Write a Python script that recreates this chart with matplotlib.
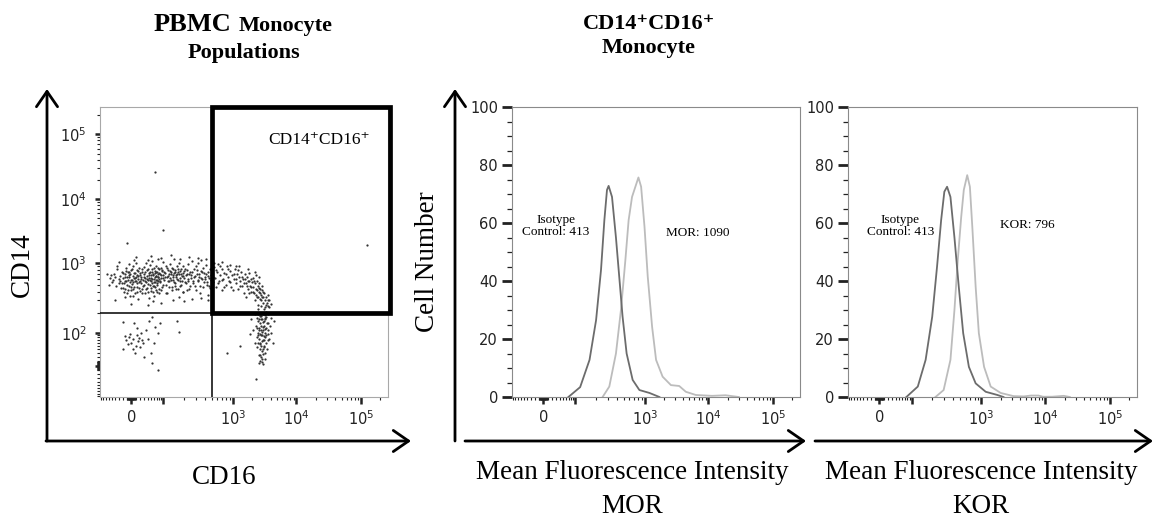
import numpy as np
import matplotlib
matplotlib.use("Agg")
import matplotlib.pyplot as plt
from matplotlib.patches import FancyArrowPatch, Rectangle, ArrowStyle
from matplotlib.ticker import FixedLocator, FixedFormatter, NullFormatter

# ---------------- data ----------------
# PBMC scatter events (CD16, CD14) by region
main_left = [
    (-55, 620), (-48, 540), (-42, 700), (-38, 480), (-35, 820), (-30, 600), (-28, 520), (-25, 660),
    (-22, 750), (-20, 450), (-45, 580), (-33, 900), (-26, 560), (-52, 680), (-40, 640),
    (-18, 610), (-16, 520), (-15, 700), (-14, 430), (-12, 860), (-11, 560), (-10, 650), (-9, 380),
    (-8, 740), (-7, 590), (-6, 480), (-5, 960), (-4, 630), (-3, 540), (-2, 700), (-1, 420), (0, 800),
    (1, 580), (2, 510), (3, 660), (4, 350), (5, 900), (6, 610), (7, 470), (8, 720), (9, 560),
    (10, 640), (11, 1000), (12, 400), (13, 690), (14, 530), (15, 780), (16, 600), (17, 450), (18, 850),
    (19, 570), (20, 680), (-13, 330), (6, 1100), (15, 310),
    (22, 520), (23, 640), (25, 760), (26, 430), (27, 590), (29, 880), (30, 500), (31, 700), (33, 380),
    (34, 610), (35, 990), (36, 540), (38, 660), (39, 450), (40, 820), (41, 580), (43, 720), (44, 320),
    (45, 620), (46, 500), (48, 940), (49, 680), (50, 560), (51, 410), (53, 760), (54, 600), (55, 1080),
    (56, 480), (58, 690), (59, 540), (60, 850), (61, 350), (63, 630), (64, 720), (65, 470), (66, 580),
    (68, 910), (69, 660), (70, 400), (71, 750), (72, 520), (74, 640), (75, 1150), (76, 560), (77, 700),
    (78, 440), (79, 820), (80, 600), (57, 290), (42, 1120),
    (82, 700), (85, 540), (88, 860), (90, 620), (92, 460), (95, 770), (97, 680), (100, 1050), (103, 580),
    (105, 730), (108, 490), (110, 900), (113, 650), (115, 380), (118, 800), (120, 700), (123, 560),
    (125, 960), (128, 620), (130, 740), (133, 470), (135, 860), (138, 680), (140, 590), (143, 1180),
    (145, 720), (148, 520), (150, 800), (153, 650), (156, 440), (158, 900), (160, 700), (164, 580),
    (168, 760), (172, 1000), (175, 620), (178, 480), (182, 840), (186, 700), (190, 560), (193, 920),
    (196, 660), (198, 400), (200, 780), (170, 330),
    (205, 620), (210, 840), (215, 520), (222, 700), (228, 960), (235, 600), (240, 430), (248, 760),
    (255, 680), (262, 1080), (270, 560), (278, 820), (285, 640), (292, 480), (300, 900), (310, 700),
    (318, 580), (325, 1000), (335, 650), (345, 380), (355, 780), (365, 600), (375, 860), (385, 540),
    (395, 720), (410, 640), (420, 940), (432, 500), (445, 760), (458, 620), (470, 840), (482, 450),
    (495, 680), (360, 1100), (440, 360),
]
main_core = [
    (-24, 450), (-21, 530), (-19, 720), (-17, 390), (-15, 560), (-13, 640), (-11, 780), (-9, 500),
    (-7, 420), (-6, 680), (-4, 760), (-3, 350), (-1, 590), (0, 470), (2, 830), (3, 540), (5, 430),
    (6, 720), (8, 610), (9, 380), (11, 560), (12, 790), (14, 470), (16, 660), (17, 540), (19, 410),
    (21, 730), (22, 600), (24, 380), (26, 820), (28, 480), (30, 640), (32, 560), (33, 740), (35, 430),
    (37, 600), (38, 810), (40, 510), (42, 390), (44, 690), (46, 580), (47, 760), (49, 450), (51, 620),
    (52, 530), (54, 840), (56, 400), (57, 700), (59, 600), (61, 480), (62, 780), (64, 550), (66, 660),
    (67, 420), (69, 740), (71, 590), (73, 500), (74, 860), (76, 640), (78, 380), (80, 720),
    (84, 560), (87, 680), (89, 420), (93, 800), (96, 610), (99, 500), (102, 740), (106, 640), (109, 380),
    (112, 860), (116, 560), (119, 660), (122, 460), (126, 780), (129, 580), (132, 700), (136, 420),
    (139, 820), (142, 640), (146, 540), (149, 740), (152, 480), (155, 680), (159, 600), (163, 840),
    (166, 440), (171, 700), (176, 560), (180, 780), (185, 500), (189, 660), (194, 400), (199, 720),
    (206, 540), (213, 680), (220, 420), (226, 800), (233, 560), (241, 700), (250, 480), (258, 620),
    (267, 760), (276, 520), (288, 660), (298, 420), (308, 800), (320, 560), (332, 700), (344, 480),
    (357, 620), (370, 760), (383, 460), (398, 600), (415, 700), (430, 540), (448, 660), (465, 480),
    (488, 580),
    (-30, 1050), (10, 1250), (50, 1300), (90, 1200), (130, 1350), (180, 1150), (240, 1250), (320, 1200),
    (420, 1150), (-40, 300), (0, 270), (40, 260), (90, 280), (140, 300), (200, 290), (260, 310),
    (350, 320), (450, 300), (-60, 500), (-65, 700),
]
main_right = [
    (510, 700), (520, 540), (540, 880), (560, 620), (580, 460), (600, 760), (620, 980), (640, 560),
    (660, 680), (690, 420), (710, 820), (730, 600), (760, 720), (790, 500), (820, 900), (850, 640),
    (880, 560), (910, 780), (950, 470), (980, 680),
    (1020, 600), (1060, 820), (1100, 520), (1150, 700), (1200, 440), (1250, 640), (1300, 560),
    (1350, 760), (1400, 480), (1450, 600), (1500, 380), (1550, 700), (1600, 520), (1650, 640),
    (1700, 430), (1750, 560), (1800, 720), (1850, 480), (1900, 600), (1950, 400), (2000, 540),
    (1120, 900), (1580, 330), (1780, 380),
    (2050, 460), (2100, 620), (2150, 380), (2200, 520), (2250, 300), (2300, 440), (2350, 560),
    (2400, 340), (2450, 480), (2500, 260), (2550, 400), (2600, 520), (2650, 310), (2700, 440),
    (2750, 360), (2800, 250), (2850, 480), (2900, 330), (2950, 400), (3000, 280), (3100, 380),
    (3200, 240), (3300, 330), (3400, 280), (3500, 360), (3600, 250), (3700, 300), (3900, 270),
    (2300, 680), (2600, 640), (3050, 230), (2450, 230),
    (530, 640), (570, 800), (610, 520), (650, 900), (700, 580), (750, 460), (800, 700), (860, 820),
    (920, 540), (990, 420), (1050, 700), (1130, 600), (1210, 800), (1280, 480), (1380, 640),
    (1470, 520), (1560, 600), (1680, 480), (1820, 560), (1920, 460), (2080, 400), (2180, 560),
    (2280, 360), (2380, 420), (2480, 330), (2580, 450), (2680, 380), (2780, 300), (2880, 420),
    (2980, 340), (3150, 300), (3350, 260), (3550, 300), (3750, 240), (540, 1000), (700, 1050),
    (900, 950), (1250, 900), (1700, 820), (2200, 750),
]
tail = [
    (2200, 190), (2400, 170), (2600, 200), (2800, 180), (3000, 195), (3200, 160), (2500, 150),
    (2700, 140), (2900, 165), (3100, 130), (3300, 175), (2300, 130), (2550, 120), (2750, 110),
    (2950, 125), (3150, 100), (3400, 140), (2450, 100), (2650, 95), (2850, 105), (3050, 85),
    (3250, 115), (3500, 95), (2350, 80), (2600, 75), (2800, 90), (3000, 70), (3200, 80), (3600, 110),
    (2500, 60), (2700, 55), (2900, 65), (3100, 50), (3350, 60), (2400, 45), (2650, 40), (2850, 35),
    (3050, 45), (3250, 30), (2550, 25), (2750, 20), (2950, 28), (3150, 15), (2700, 10), (2900, 8),
    (3000, 3), (2600, 5), (3400, 40), (3700, 75), (3800, 130), (3900, 100), (4200, 60), (4400, 150),
    (1900, 160), (2100, 110), (2200, 60), (1850, 95), (3300, 205), (3600, 190), (4000, 170),
    (2750, 160), (3050, 150), (2650, 180), (2950, 145), (3150, 185),
    (2450, 190), (2850, 200), (3150, 170), (2550, 165), (2750, 130), (3000, 110), (3300, 90),
    (2600, 110), (2900, 90), (3100, 70), (2650, 60), (2800, 50), (3000, 40), (2500, 90), (3350, 120),
    (2700, 25), (2850, 15), (3500, 70), (3600, 140), (2400, 120),
]
lower_left = [
    (-18, 145), (7, 140), (55, 175), (160, 150), (170, 105), (-11, 70), (-5, 80), (0, 60), (5, 75),
    (10, 50), (15, 65), (20, 45), (25, 70), (-8, 55), (-14, 85), (12, 90), (28, 60), (3, 40), (18, 78),
    (-2, 95), (50, 30), (52, 5), (74, -11), (40, 75), (75, 100), (12, 120), (35, 110), (60, 60),
    (85, 140), (-20, 40), (30, 20), (65, 125), (45, 150), (8, 30), (22, 100),
]
outliers = [(65, 26500), (100, 3300), (-9, 2080), (126000, 1930), (2330, -31), (1300, 50), (820, 30)]

gate_cd16 = 500
gate_cd14 = 200
gate_label = "CD14\u207aCD16\u207a"

# histogram traces (intensity, cell number)
mor_iso_x = [69, 118, 163, 203, 239, 267, 291, 307, 343, 390, 434, 484, 552, 671, 835, 1176, 1687]
mor_iso_y = [0, 3.4, 12.8, 26.5, 43.8, 61, 71.4, 72.8, 69, 55, 41.5, 27.7, 15, 5.9, 2.4, 1.4, 0]
mor_x = [252, 314, 390, 459, 529, 589, 658, 733, 809, 883, 985, 1106, 1296, 1496, 1897, 2563,
         3459, 4401, 6310, 11320, 18400, 29500]
mor_y = [0, 3.6, 15, 30, 47, 61, 69, 72.5, 75.7, 72.5, 58.7, 41.5, 24.2, 12.8, 7, 4.1,
         3.8, 1.8, 0.7, 0.4, 0.6, 0]
kor_iso_x = [76, 124, 162, 202, 237, 271, 301, 329, 367, 418, 481, 555, 667, 830, 1167, 1777, 2218]
kor_iso_y = [0, 3.6, 12.8, 27.7, 45, 61, 70.8, 72.5, 69, 55, 38, 22, 10.4, 4.7, 1.8, 0.7, 0]
kor_x = [225, 294, 367, 418, 465, 520, 566, 632, 689, 745, 830, 920, 1100, 1398, 2003, 3196,
         4620, 6000, 7850, 9240, 12900, 19400, 24000]
kor_y = [0, 2.4, 12.8, 30, 47, 62, 71.4, 76.5, 72.5, 58.7, 38, 22, 10.4, 3.6, 1.4, 0.3,
         0.2, 0.5, 0.5, 0.1, 0.1, 0.4, 0]

iso_label = "Isotype\nControl: 413"
mor_label = "MOR: 1090"
kor_label = "KOR: 796"

# ---------------- scale (biexponential-like) ----------------
ANCH_V = np.array([-1e5, -1e4, -1e3, -100, 0, 100, 1e3, 1e4, 1e5, 1e6])
ANCH_P = np.array([-231.5, -166.5, -102.5, -32.5, 0, 32.5, 102.5, 166.5, 231.5, 296.5])


def _g(v):
    return np.arcsinh(np.asarray(v, dtype=float) / 50.0)


G_ANCH = _g(ANCH_V)


def fwd(v):
    return np.interp(_g(v), G_ANCH, ANCH_P)


def inv(p):
    return 50.0 * np.sinh(np.interp(np.asarray(p, dtype=float), ANCH_P, G_ANCH))


MAJOR = [0, 100, 1e3, 1e4, 1e5]
MINOR = ([-k for k in range(1, 10)] + [-10 * k for k in range(1, 10)] +
         [k for k in range(1, 10)] + [10 * k for k in range(1, 10)] +
         [100 * k for k in range(2, 10)] + [1000 * k for k in range(2, 10)] +
         [10000 * k for k in range(2, 10)] + [200000])
LIMS = (-95, 262144)

W, H = 1163, 519
fig = plt.figure(figsize=(W / 100, H / 100), dpi=100)
SERIF = ["Liberation Serif", "DejaVu Serif"]
TICKC = "#222222"
TLS = 10.5


def fx(x):
    return x / W


def fy(y):
    return 1 - y / H


def setup_x(ax):
    ax.set_xscale("function", functions=(fwd, inv))
    ax.set_xlim(*LIMS)
    ax.xaxis.set_major_locator(FixedLocator(MAJOR))
    ax.xaxis.set_major_formatter(FixedFormatter(["0", "", r"$10^3$", r"$10^4$", r"$10^5$"]))
    ax.xaxis.set_minor_locator(FixedLocator(MINOR))
    ax.xaxis.set_minor_formatter(NullFormatter())
    ax.tick_params(axis="x", which="major", direction="out", length=5, width=1.8,
                   colors=TICKC, labelsize=TLS, pad=4)
    ax.tick_params(axis="x", which="minor", direction="out", length=2.5, width=0.8, colors=TICKC)
    for lab in ax.xaxis.get_majorticklabels()[2:]:
        pass


def frame(ax, color):
    for s in ax.spines.values():
        s.set_color(color)
        s.set_linewidth(0.8)


# ---------------- left: scatter ----------------
axL = fig.add_axes([fx(100), fy(397), 288 / W, 290 / H])
setup_x(axL)
axL.set_yscale("function", functions=(fwd, inv))
axL.set_ylim(*LIMS)
axL.yaxis.set_major_locator(FixedLocator(MAJOR))
axL.yaxis.set_major_formatter(FixedFormatter(["", r"$10^2$", r"$10^3$", r"$10^4$", r"$10^5$"]))
axL.yaxis.set_minor_locator(FixedLocator(MINOR))
axL.yaxis.set_minor_formatter(NullFormatter())
axL.tick_params(axis="y", which="major", direction="out", length=3.5, width=1.8,
                colors=TICKC, labelsize=TLS, pad=6)
axL.tick_params(axis="y", which="minor", direction="out", length=2.2, width=0.8, colors=TICKC)
frame(axL, "#a8a8a8")

for grp in (main_left, main_core, main_right, tail, lower_left, outliers):
    xs = [p[0] for p in grp]
    ys = [p[1] for p in grp]
    axL.scatter(xs, ys, s=2.6, c="#333333", linewidths=0, zorder=2)

axL.axhline(gate_cd14, color="black", lw=1.1, zorder=3)
axL.axvline(gate_cd16, color="black", lw=1.1, zorder=3)
axL.add_patch(Rectangle((gate_cd16, gate_cd14), 280000 - gate_cd16, LIMS[1] - gate_cd14,
                        fill=False, edgecolor="black", lw=3.4, zorder=4, clip_on=False,
                        joinstyle="miter"))
axL.text(0.76, 0.885, gate_label, transform=axL.transAxes, ha="center", va="center",
         fontsize=12.5, family=SERIF)


# ---------------- histograms ----------------
def hist_axes(left_px, width_px, iso_x, iso_y, rx, ry, lab_iso_pos, lab, lab_pos):
    ax = fig.add_axes([fx(left_px), fy(397), width_px / W, 290 / H])
    setup_x(ax)
    ax.set_ylim(0, 100)
    ax.set_yticks([0, 20, 40, 60, 80, 100])
    ax.set_yticks(list(range(5, 100, 5)), minor=True)
    ax.yaxis.set_minor_formatter(NullFormatter())
    ax.tick_params(axis="y", which="major", direction="out", length=7, width=2,
                   colors=TICKC, labelsize=TLS, pad=3)
    ax.tick_params(axis="y", which="minor", direction="out", length=3.5, width=0.9, colors=TICKC)
    frame(ax, "#8a8a8a")
    ax.plot(iso_x, iso_y, color="#6c6c6c", lw=1.3, zorder=3)
    ax.plot(rx, ry, color="#bcbcbc", lw=1.3, zorder=2)
    ax.text(lab_iso_pos[0], lab_iso_pos[1], iso_label, ha="center", va="center",
            fontsize=9.5, family=SERIF, linespacing=1.05)
    ax.text(lab_pos[0], lab_pos[1], lab, ha="center", va="center", fontsize=9.5, family=SERIF)
    return ax


ax1 = hist_axes(512, 288, mor_iso_x, mor_iso_y, mor_x, mor_y, (29, 59), mor_label, (6730, 56.5))
ax2 = hist_axes(848, 289, kor_iso_x, kor_iso_y, kor_x, kor_y, (54, 59), kor_label, (5240, 59.3))

# ---------------- arrows ----------------
style = ArrowStyle("->", head_length=0.55, head_width=0.38)


def arrow(x0, y0, x1, y1):
    fig.add_artist(FancyArrowPatch((fx(x0), fy(y0)), (fx(x1), fy(y1)), transform=fig.transFigure,
                                   arrowstyle=style, mutation_scale=20, lw=2, color="black",
                                   shrinkA=0, shrinkB=0))


arrow(47, 441, 47, 89)
arrow(46, 441, 411, 441)
arrow(455, 441, 455, 89)
arrow(465, 441, 806, 441)
arrow(815, 441, 1153, 441)

# ---------------- texts ----------------
fig.text(fx(231), fy(31), "PBMC", ha="right", va="baseline", fontsize=19,
         fontweight="bold", family=SERIF)
fig.text(fx(239), fy(31), "Monocyte", ha="left", va="baseline", fontsize=16,
         fontweight="bold", family=SERIF)
fig.text(fx(244), fy(58), "Populations", ha="center", va="baseline", fontsize=16,
         fontweight="bold", family=SERIF)
fig.text(fx(649), fy(29), gate_label, ha="center", va="baseline", fontsize=16,
         fontweight="bold", family=SERIF)
fig.text(fx(649), fy(53), "Monocyte", ha="center", va="baseline", fontsize=16,
         fontweight="bold", family=SERIF)

fig.text(fx(22), fy(265), "CD14", rotation=90, ha="center", va="center", fontsize=19.5, family=SERIF)
fig.text(fx(224), fy(484), "CD16", ha="center", va="baseline", fontsize=19.5, family=SERIF)
fig.text(fx(428), fy(262), "Cell Number", rotation=90, ha="center", va="center",
         fontsize=19.5, family=SERIF)
fig.text(fx(632), fy(479), "Mean Fluorescence Intensity", ha="center", va="baseline",
         fontsize=19.5, family=SERIF)
fig.text(fx(632), fy(513), "MOR", ha="center", va="baseline", fontsize=19.5, family=SERIF)
fig.text(fx(981), fy(479), "Mean Fluorescence Intensity", ha="center", va="baseline",
         fontsize=19.5, family=SERIF)
fig.text(fx(981), fy(513), "KOR", ha="center", va="baseline", fontsize=19.5, family=SERIF)

fig.savefig("out.png", dpi=100, facecolor="white")
